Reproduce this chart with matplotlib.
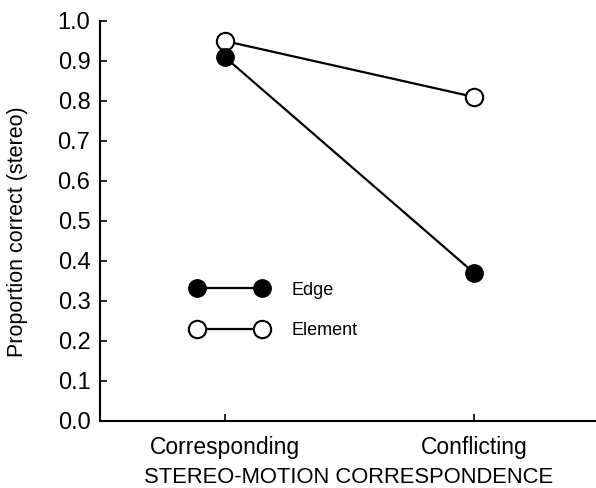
import matplotlib
matplotlib.use('Agg')
import matplotlib.pyplot as plt

plt.rcParams['font.family'] = ['Liberation Sans', 'DejaVu Sans']

conditions = ['Corresponding', 'Conflicting']
edge = [0.91, 0.37]
element = [0.95, 0.81]
yticks = [0.0, 0.1, 0.2, 0.3, 0.4, 0.5, 0.6, 0.7, 0.8, 0.9, 1.0]

fig = plt.figure(figsize=(5.96, 4.88), dpi=100)
ax = fig.add_axes([0.168, 0.138, 0.832, 0.819])

x = list(range(len(conditions)))
ax.plot(x, element, '-o', color='black', markerfacecolor='white',
        markeredgecolor='black', markersize=12.5, markeredgewidth=1.5,
        linewidth=1.6, label='Element', clip_on=False, zorder=3)
ax.plot(x, edge, '-o', color='black', markerfacecolor='black',
        markersize=12.5, linewidth=1.6, label='Edge', clip_on=False, zorder=3)

ax.set_xlim(-0.5, 1.49)
ax.set_ylim(0, 1.0)
ax.set_xticks(x)
ax.set_xticklabels(conditions, fontsize=16.5)
ax.set_yticks(yticks)
ax.set_yticklabels(['%.1f' % t for t in yticks], fontsize=17)
ax.tick_params(direction='in', length=5, width=1.2)
ax.tick_params(axis='x', pad=11)
ax.tick_params(axis='y', pad=7)
ax.spines['top'].set_visible(False)
ax.spines['right'].set_visible(False)
ax.spines['left'].set_linewidth(1.5)
ax.spines['bottom'].set_linewidth(1.5)

ax.set_xlabel('STEREO-MOTION CORRESPONDENCE', fontsize=15.8, labelpad=6)
ax.set_ylabel('Proportion correct (stereo)', fontsize=15.5)
ax.yaxis.set_label_coords(-0.145, 0.472)

handles, labels = ax.get_legend_handles_labels()
ax.legend(handles[::-1], labels[::-1], loc='center left',
          bbox_to_anchor=(0.185, 0.276), frameon=False, numpoints=2,
          fontsize=13, handlelength=4.2, handletextpad=1.3,
          labelspacing=1.3, borderpad=0, borderaxespad=0)

fig.savefig('out.png', dpi=100)
